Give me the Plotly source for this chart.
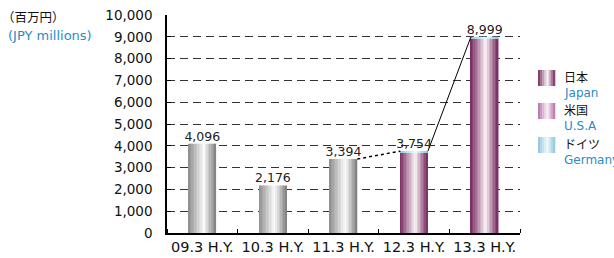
import plotly.graph_objects as go

# ---- data ----
categories = ["09.3 H.Y.", "10.3 H.Y.", "11.3 H.Y.", "12.3 H.Y.", "13.3 H.Y."]
totals = [4096, 2176, 3394, 3754, 8999]
gray_vals = [4096, 2176, 3394, None, None]       # earlier periods (grey)
japan_vals = [None, None, None, 3674, 8919]       # Japan
germany_vals = [None, None, None, 80, 80]         # Germany (thin cap)
total_labels = ["4,096", "2,176", "3,394", "3,754", "8,999"]
y_ticks = [0, 1000, 2000, 3000, 4000, 5000, 6000, 7000, 8000, 9000, 10000]

xs = list(range(len(categories)))
BAR_W = 0.39
N = 18

L, R, T, B = 167, 94, 15, 25
W, H = 614, 258
PW, PH = W - L - R, H - T - B


def lerp(c1, c2, t):
    return tuple(round(a + (b - a) * t) for a, b in zip(c1, c2))


def grad(edge_l, mid, edge_r, t, peak=0.58):
    if t <= peak:
        c = lerp(edge_l, mid, t / peak)
    else:
        c = lerp(mid, edge_r, (t - peak) / (1 - peak))
    return "rgb(%d,%d,%d)" % c


GRAY_L, GRAY_M, GRAY_R = (140, 140, 140), (252, 252, 252), (125, 125, 125)
PUR_L, PUR_M, PUR_R = (118, 38, 92), (250, 245, 248), (118, 38, 92)
BLU_L, BLU_M, BLU_R = (140, 196, 220), (240, 250, 252), (140, 196, 220)

fig = go.Figure()

for k in range(N):
    t = (k + 0.5) / N
    off = -BAR_W / 2 + k * BAR_W / N
    wid = BAR_W / N * 1.02
    fig.add_trace(go.Bar(x=xs, y=gray_vals, offset=off, width=wid,
                         marker=dict(color=grad(GRAY_L, GRAY_M, GRAY_R, t), line=dict(width=0)),
                         showlegend=False, hoverinfo="skip"))
    fig.add_trace(go.Bar(x=xs, y=japan_vals, offset=off, width=wid,
                         marker=dict(color=grad(PUR_L, PUR_M, PUR_R, t, 0.55), line=dict(width=0)),
                         showlegend=False, hoverinfo="skip"))
    fig.add_trace(go.Bar(x=xs, y=germany_vals, base=japan_vals, offset=off, width=wid,
                         marker=dict(color=grad(BLU_L, BLU_M, BLU_R, t, 0.55), line=dict(width=0)),
                         showlegend=False, hoverinfo="skip"))

# connector lines
fig.add_trace(go.Scatter(x=[xs[2] + BAR_W / 2, xs[3] - BAR_W / 2], y=[totals[2], totals[3]],
                         mode="lines", line=dict(color="black", width=1.5, dash="dot"),
                         showlegend=False, hoverinfo="skip"))
fig.add_trace(go.Scatter(x=[xs[3] + BAR_W / 2, xs[4] - BAR_W / 2], y=[totals[3], totals[4]],
                         mode="lines", line=dict(color="black", width=1),
                         showlegend=False, hoverinfo="skip"))

# value labels
fig.add_trace(go.Scatter(x=xs, y=totals, mode="text", text=total_labels,
                         textposition="top center",
                         textfont=dict(family="DejaVu Sans", size=12.5, color="#222"),
                         showlegend=False, hoverinfo="skip", cliponaxis=False))

shapes = []
annotations = []


def px_x(p):
    return (p - L) / PW


def px_y(p):
    return (H - B - p) / PH


# legend icons
legend_items = [
    ("日本", "Japan", PUR_L, PUR_M, 70),
    ("米国", "U.S.A", (178, 110, 168), (250, 240, 248), 103),
    ("ドイツ", "Germany", BLU_L, BLU_M, 137),
]
for jp, en, cl, cm, top in legend_items:
    x0, x1 = 538, 555
    n = 8
    for k in range(n):
        t = (k + 0.5) / n
        shapes.append(dict(type="rect", xref="paper", yref="paper",
                           x0=px_x(x0 + (x1 - x0) * k / n), x1=px_x(x0 + (x1 - x0) * (k + 1) / n + 0.3),
                           y0=px_y(top + 16), y1=px_y(top),
                           fillcolor=grad(cl, cm, cl, t, 0.55), line=dict(width=0), layer="above"))
    annotations.append(dict(xref="paper", yref="paper", x=px_x(562), y=px_y(top + 6),
                            text=jp, showarrow=False, xanchor="left", yanchor="middle",
                            font=dict(family="Noto Sans CJK JP", size=12, color="#111")))
    annotations.append(dict(xref="paper", yref="paper", x=px_x(562), y=px_y(top + 23),
                            text=en, showarrow=False, xanchor="left", yanchor="middle",
                            font=dict(family="DejaVu Sans", size=12, color="#2a8bc9")))

annotations.append(dict(xref="paper", yref="paper", x=px_x(0), y=px_y(17),
                        text="（百万円）", showarrow=False, xanchor="left", yanchor="middle",
                        font=dict(family="Noto Sans CJK JP", size=12.5, color="#111")))
annotations.append(dict(xref="paper", yref="paper", x=px_x(6), y=px_y(35),
                        text="(JPY millions)", showarrow=False, xanchor="left", yanchor="middle",
                        font=dict(family="DejaVu Sans", size=13, color="#2a8bc9")))

fig.update_layout(
    width=W, height=H,
    margin=dict(l=L, r=R, t=T, b=B),
    paper_bgcolor="white", plot_bgcolor="white",
    barmode="overlay",
    showlegend=False,
    shapes=shapes, annotations=annotations,
    font=dict(family="DejaVu Sans", size=13, color="#111"),
    xaxis=dict(range=[-0.5, 4.5], tickvals=xs, ticktext=categories, ticks="",
               showline=True, linecolor="black", linewidth=1.5, showgrid=False, zeroline=False,
               automargin=False,
               tickfont=dict(family="DejaVu Sans", size=14.5, color="#111"),
               minor=dict(tick0=0.5, dtick=1, ticks="inside", ticklen=4, tickcolor="black", showgrid=False)),
    yaxis=dict(range=[0, 10000], tickvals=y_ticks, tickformat=",d", ticks="inside", ticklen=4,
               tickcolor="black", showline=True, linecolor="black", linewidth=1.5,
               showgrid=True, gridcolor="#333", griddash="8px,5px", gridwidth=1, zeroline=False,
               ticklabelstandoff=10, automargin=False,
               tickfont=dict(family="DejaVu Sans", size=13.5, color="#111")),
)

fig.write_html("out.html", config={"displayModeBar": False},
               post_script="document.body.style.margin='0';document.body.style.overflow='hidden';")
